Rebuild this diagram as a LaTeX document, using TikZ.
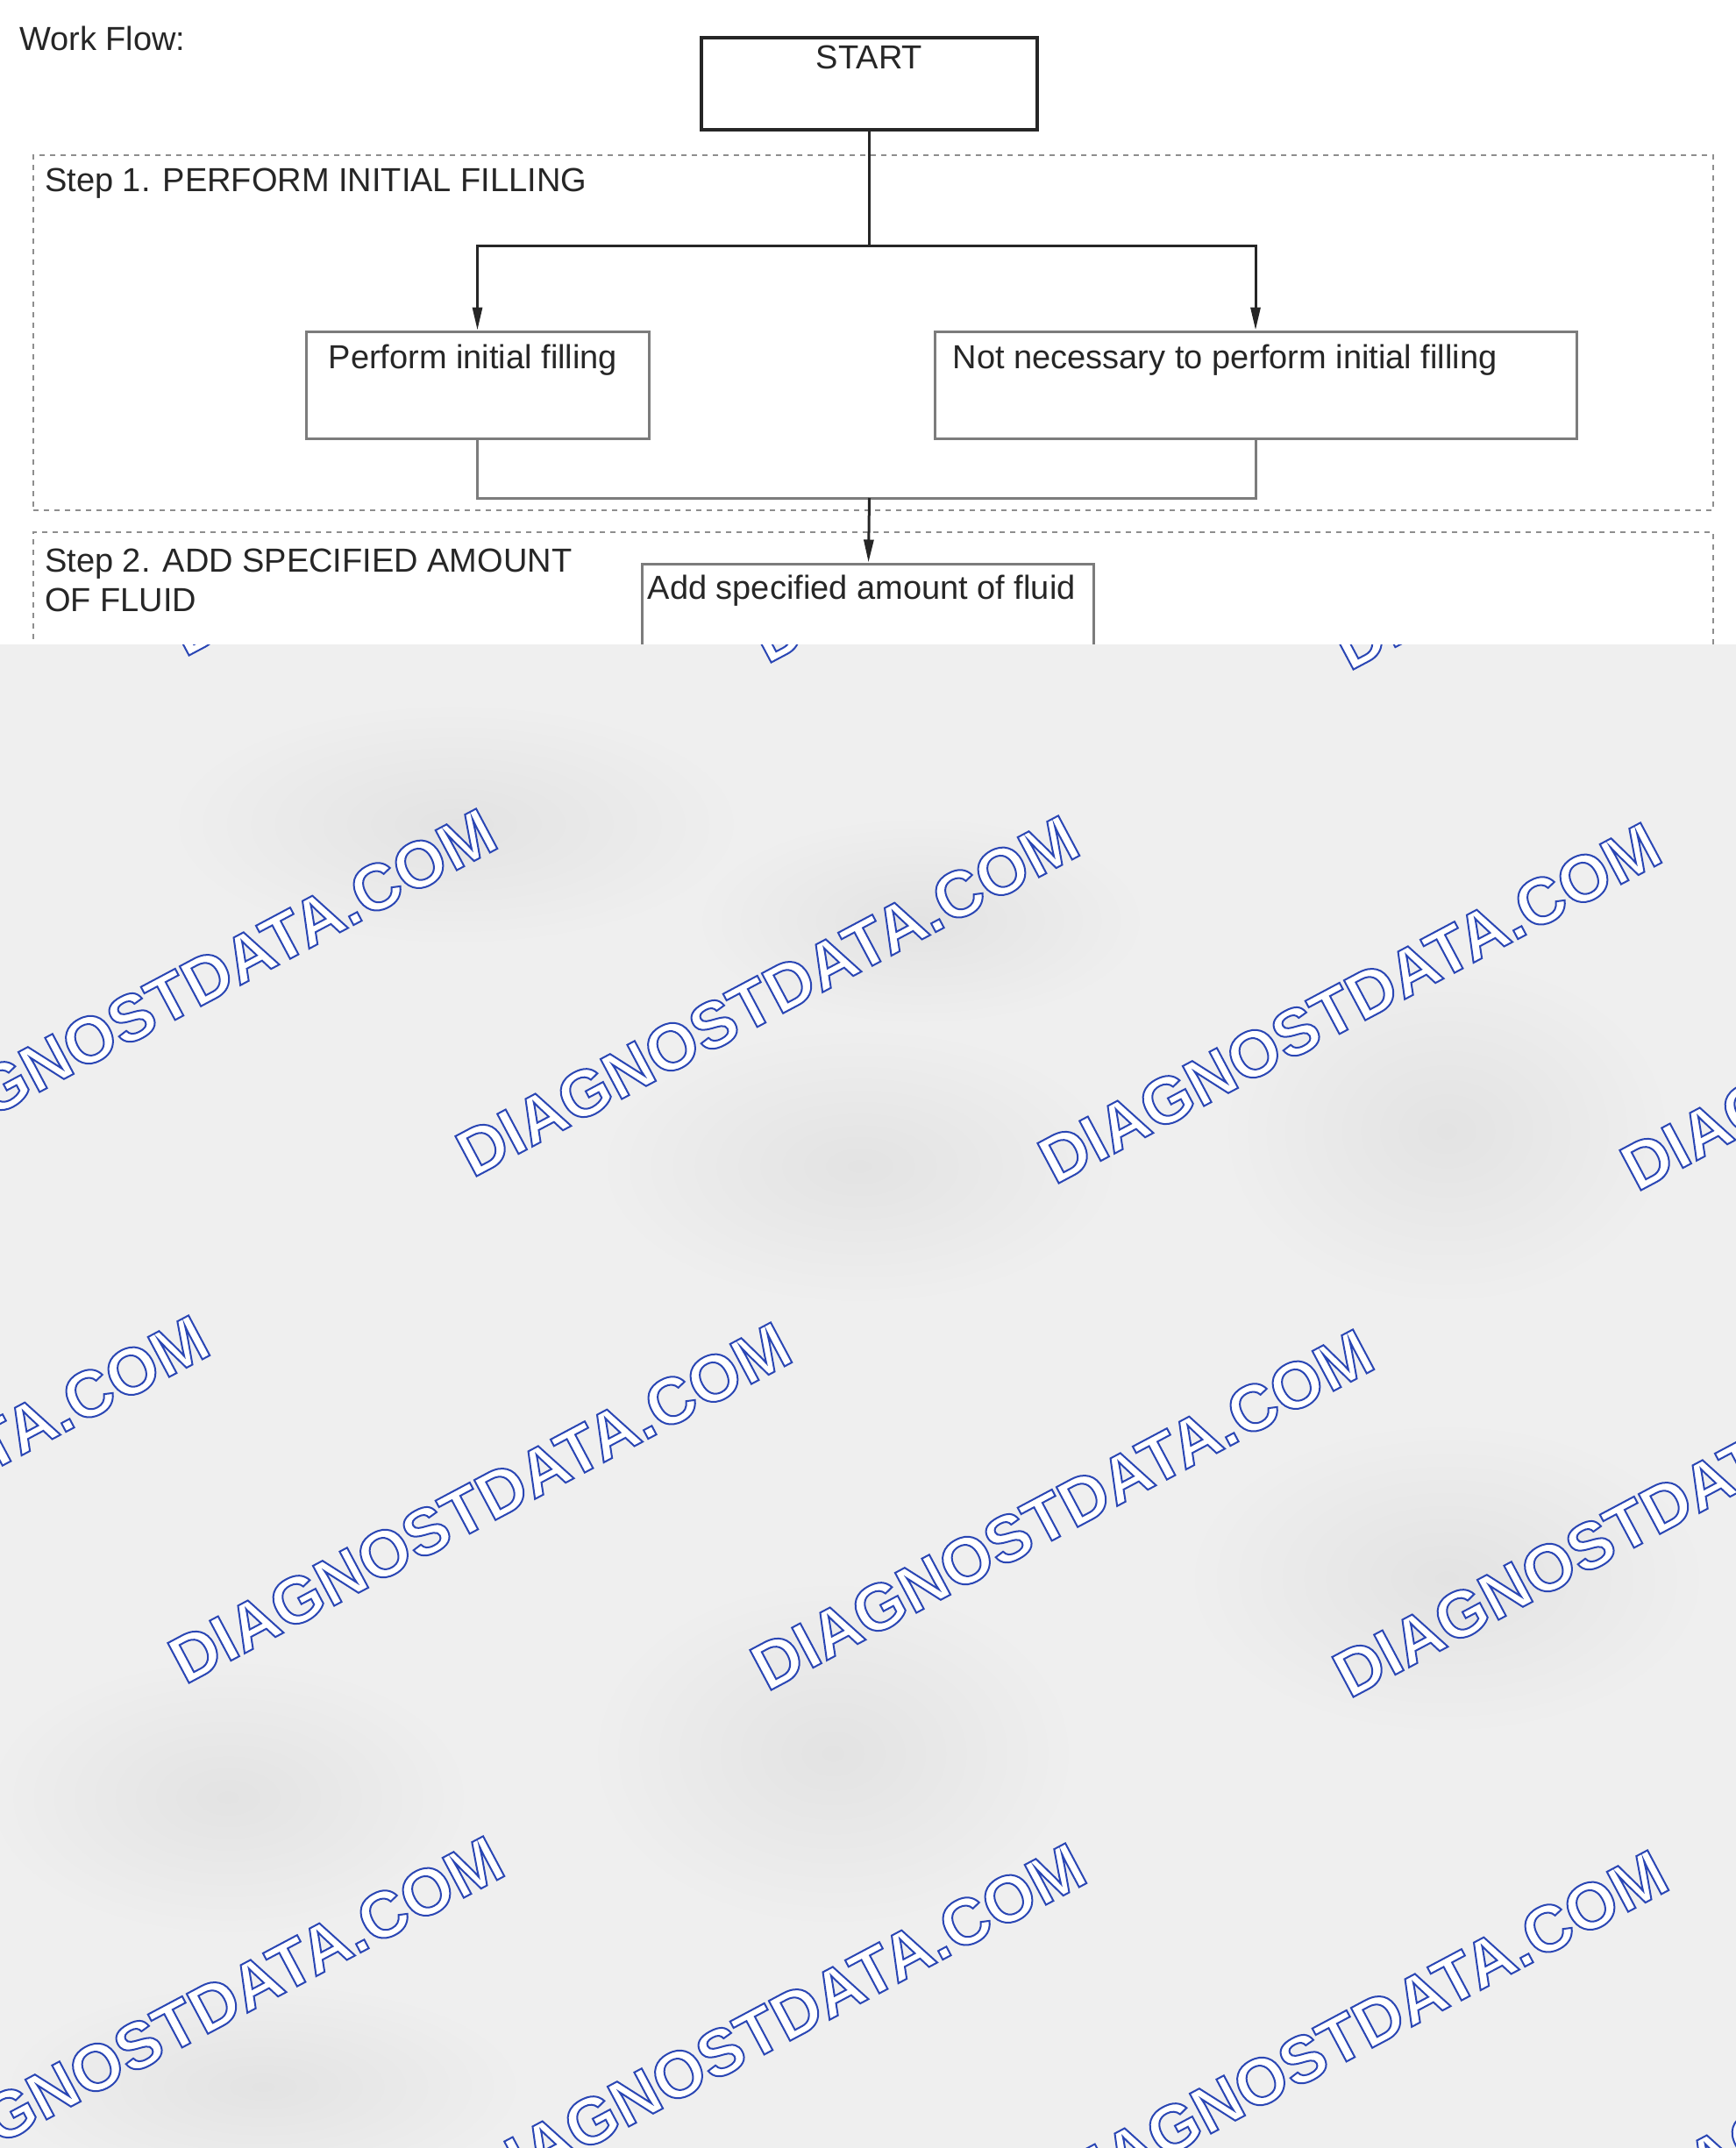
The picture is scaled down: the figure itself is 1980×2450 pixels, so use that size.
\documentclass[tikz,border=0pt]{standalone}
\usepackage{fontspec}
\setmainfont{Liberation Sans}
\usetikzlibrary{arrows.meta,positioning}

\definecolor{inkgray}{HTML}{262626}
\definecolor{boxgray}{HTML}{7C7C7C}
\definecolor{dashgray}{HTML}{8E8E8E}
\definecolor{wmblue}{HTML}{2A46B4}
\definecolor{paper}{HTML}{EFEFEF}

% white letters with a thin blue outline
\newcommand\outlined[1]{{\color{white}\special{pdf:literal direct 0.165 0.275 0.706 RG 2 w 2 Tr}#1\special{pdf:literal direct 0 Tr}}}

\begin{document}
\begin{tikzpicture}[
  x = 1pt, y = -1pt,
  txt/.style = {font = \fontsize{38}{45}\selectfont, text = inkgray, inner sep = 0pt},
  startbox/.style = {draw = black!85, line width = 4.5pt, minimum width = 383pt, minimum height = 105pt},
  stepbox/.style = {draw = boxgray, line width = 3pt, minimum height = 122pt},
  groupbox/.style = {draw = dashgray, line width = 2.5pt, dash pattern = on 6pt off 6pt},
  link/.style = {draw = inkgray, line width = 3pt},
  mergeline/.style = {draw = boxgray, line width = 3pt},
  arrow/.style = {link, -{Triangle[length = 26pt, width = 11pt]}},
  wmark/.style = {font = \fontsize{75}{80}\selectfont\bfseries, inner sep = 0pt, rotate = 28},
  ]
  \useasboundingbox (0,0) rectangle (1980,2450);

  % frames of the two steps
  \node[groupbox, minimum width = 1916pt, minimum height = 405pt] (step1) at (996,379.5) {};
  \node[groupbox, minimum width = 1916pt, minimum height = 300pt] (step2) at (996,757) {};
  \node[txt, anchor = base west] at (51,218) {Step 1. PERFORM INITIAL FILLING};
  \node[txt, anchor = base west, align = left] at (51,697) {Step 2. ADD SPECIFIED AMOUNT\\OF FLUID};

  \node[txt, anchor = base west] (title) at (22,57) {Work Flow:};

  % boxes
  \node[startbox] (start) at (991.5,95.5) {};
  \node[txt, anchor = base] at ([yshift = -38pt]start.north) {START};

  \node[stepbox, minimum width = 391pt] (perform) at (544.5,439) {};
  \node[txt, anchor = base west] at ([xshift = 27pt, yshift = -44pt]perform.north west) {Perform initial filling};

  \node[stepbox, minimum width = 732pt] (notnec) at (1432,439) {};
  \node[txt, anchor = base west] at ([xshift = 22pt, yshift = -44pt]notnec.north west) {Not necessary to perform initial filling};

  \node[stepbox, minimum width = 515pt, minimum height = 160pt] (add) at (989.5,723) {};
  \node[txt, anchor = base west] at ([xshift = 8pt, yshift = -42pt]add.north west) {Add specified amount of fluid};

  % connectors
  \coordinate (split) at (991.5,280);
  \coordinate (merge) at (991.5,568);
  \draw[link] (start) -- (split);
  \draw[arrow] (split) -| (perform);
  \draw[arrow] (split) -| (notnec);
  \draw[mergeline] (perform) |- (merge);
  \draw[mergeline] (notnec) |- (merge);
  \draw[arrow] (merge) -- (add);

  % watermark layer over the lower part
  \begin{scope}
    \clip (0,735) rectangle (1980,2450);
    \fill[paper] (0,735) rectangle (1980,2450);
    \foreach \bx/\by/\rx/\ry in {520/940/330/140, 980/1330/300/160, 1650/1290/260/200,
                                 950/2000/280/200, 1650/1800/300/180, 260/2050/280/160,
                                 1050/1050/260/120, 300/2380/300/120}
      \shade[inner color = gray!22, outer color = paper] (\bx,\by) ellipse [x radius = \rx pt, y radius = \ry pt];
    \foreach \sx/\sy in {211/750, 539/1344, 211/1922, 547/2516}
      \foreach \k in {-1,0,1,2}
        \node[wmark, anchor = base west] at (\sx + 664*\k, \sy + 8*\k) {\outlined{DIAGNOSTDATA.COM}};
  \end{scope}
\end{tikzpicture}
\end{document}
